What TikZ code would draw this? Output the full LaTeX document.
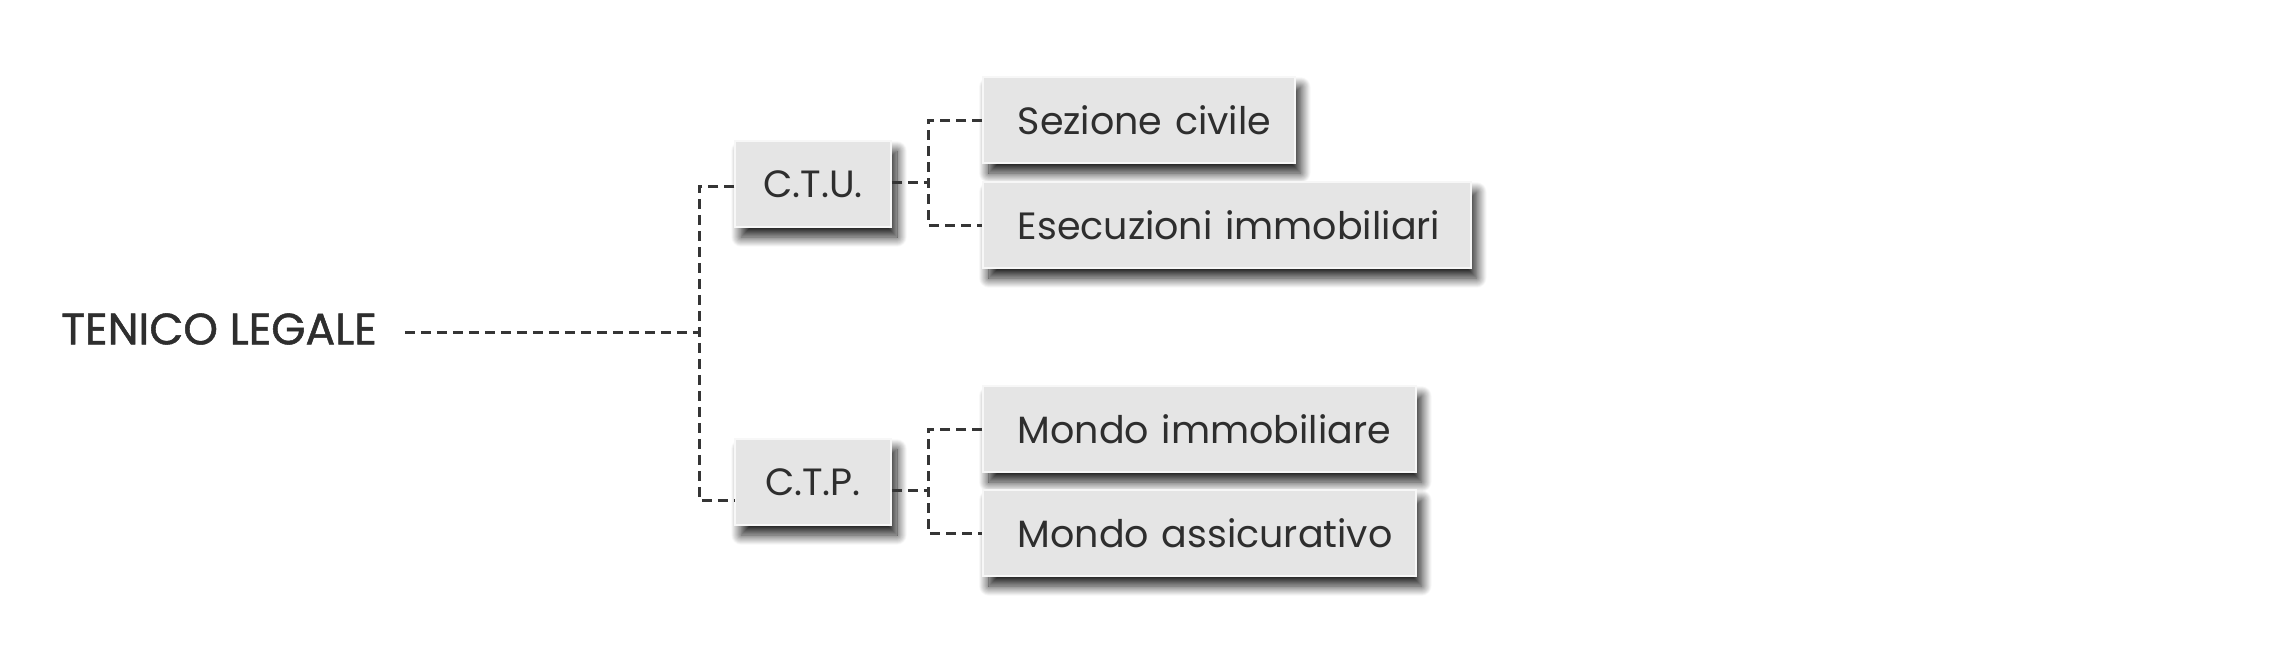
\documentclass[tikz,border=0pt]{standalone}
\usepackage{fontspec}
\setmainfont{Poppins}
\newfontfamily\titlefont[FakeBold=1.2]{Poppins}
\usetikzlibrary{shadows.blur}
\definecolor{txt}{HTML}{2E2E2E}
\definecolor{boxfill}{HTML}{E5E5E5}
\definecolor{linec}{HTML}{353535}
\begin{document}
\begin{tikzpicture}[x=1pt,y=-1pt,
  box/.style={draw=white!97!black, line width=1.5pt, fill=boxfill, text=txt,
    font=\fontsize{38}{44}\selectfont, minimum height=86pt,
    blur shadow={shadow xshift=6pt, shadow yshift=-10pt, shadow blur radius=10pt, shadow blur steps=20, shadow opacity=90}},
  leaf/.style={box, anchor=west, inner xsep=35pt, align=left},
  conn/.style={draw=linec, line width=3pt, dash pattern=on 10pt off 6pt}]
\useasboundingbox (0,0) rectangle (2282,665);
\node[text=txt, font=\titlefont\fontsize{44}{50}\selectfont, inner xsep=28pt] (ten) at (219,329) {TENICO LEGALE};
\node[box, minimum width=156pt] (ctu) at (813,184) {C.T.U.};
\node[box, minimum width=156pt] (ctp) at (813,482) {C.T.P.};
\node[leaf, text width=242pt] (sez) at (982,120) {\mbox{Sezione civile}};
\node[leaf, text width=418pt] (ese) at (982,225) {\mbox{Esecuzioni immobiliari}};
\node[leaf, text width=363pt] (mim) at (982,429) {\mbox{Mondo immobiliare}};
\node[leaf, text width=363pt] (mas) at (982,533) {\mbox{Mondo assicurativo}};
\coordinate (j) at (699,332);
\coordinate (tu) at (699,186);
\coordinate (tp) at (699,500);
\coordinate (bu) at (928,182);
\coordinate (bp) at (928,490);
\draw[conn] (ten.east |- j) -- (j);
\draw[conn] (ctu.west |- tu) -- (tu) -- (tp) -- (ctp.west |- tp);
\draw[conn] (ctu.east |- bu) -- (bu);
\draw[conn] (sez.west) -| (bu) |- (ese.west);
\draw[conn] (ctp.east |- bp) -- (bp);
\draw[conn] (mim.west) -| (bp) |- (mas.west);
\end{tikzpicture}
\end{document}
